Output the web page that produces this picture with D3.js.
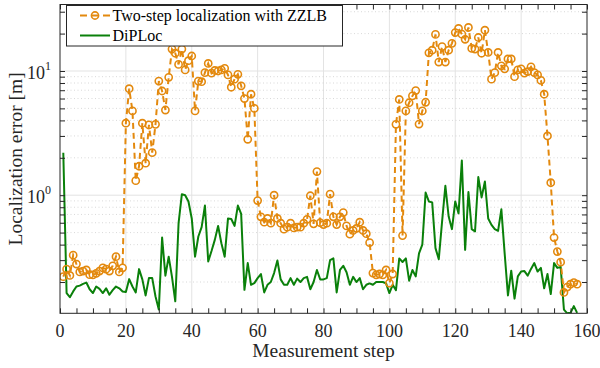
<!DOCTYPE html>
<html>
<head>
<meta charset="utf-8">
<script src="https://cdn.jsdelivr.net/npm/d3@7"></script>
<style>
  body { margin: 0; background: #fff; }
  svg text { font-family: "Liberation Serif", Tinos, "Times New Roman", Times, "DejaVu Serif", serif; }
</style>
</head>
<body>
<div id="chart"></div>
<script>
const zzlb = [
  0.221, 0.254, 0.226, 0.329, 0.279, 0.241, 0.245, 0.25, 0.229, 0.228,
  0.235, 0.245, 0.26, 0.254, 0.245, 0.27, 0.32, 0.241, 0.26, 3.8,
  7.2, 4.77, 1.31, 1.71, 3.8, 1.81, 3.68, 2.2, 3.72, 8.3,
  6.9, 4.85, 8.9, 15, 13.9, 11.3, 15, 10.2, 12.1, 13.2,
  4.77, 8.3, 8.2, 9.7, 11.5, 9.6, 10.1, 10.0, 10.2, 10.5,
  9.3, 7.4, 8.6, 9.4, 7.6, 6.0, 2.82, 6.5, 5.0, 0.905,
  0.67, 0.606, 0.65, 0.595, 1.0, 0.65, 0.595, 0.533, 0.553, 0.595,
  0.545, 0.553, 0.553, 0.595, 0.64, 0.99, 0.588, 1.55, 0.6, 0.58,
  0.595, 1.02, 0.67, 0.58, 0.67, 0.725, 0.566, 0.486, 0.52, 0.54,
  0.606, 0.52, 0.49, 0.415, 0.236, 0.228, 0.232, 0.228, 0.25, 0.196,
  0.232, 3.72, 5.9, 0.473, 4.77, 5.55, 6.3, 6.95, 3.74, 4.77,
  5.6, 14, 14.7, 19.7, 11.8, 15.7, 11.8, 14.7, 16.7, 20.4,
  22, 19.8, 18, 22.4, 15.2, 15, 18.6, 13.9, 21.3, 14.1,
  8.6, 9.7, 14.1, 11, 10.4, 12.5, 12.5, 9.0, 10.2, 10.4,
  9.6, 9.9, 10.8, 9.7, 9.3, 8.4, 6.5, 3.0, 1.26, 0.456,
  0.352, 0.289, 0.165, 0.182, 0.192, 0.198, 0.192
];

const diploc = [
  2.2, 0.163, 0.151, 0.168, 0.184, 0.187, 0.193, 0.198, 0.175, 0.163,
  0.184, 0.176, 0.163, 0.178, 0.158, 0.172, 0.184, 0.178, 0.168, 0.166,
  0.211, 0.184, 0.165, 0.254, 0.21, 0.156, 0.215, 0.215, 0.153, 0.12,
  0.456, 0.225, 0.32, 0.22, 0.14, 0.595, 1.02, 1.0, 0.89, 0.65,
  0.32, 0.465, 0.553, 0.825, 0.293, 0.355, 0.437, 0.566, 0.41, 0.32,
  0.648, 0.643, 0.566, 0.825, 0.707, 0.173, 0.284, 0.19, 0.196, 0.215,
  0.232, 0.165, 0.19, 0.2, 0.236, 0.298, 0.21, 0.19, 0.19, 0.215,
  0.19, 0.213, 0.2, 0.215, 0.22, 0.175, 0.2, 0.25, 0.21, 0.21,
  0.215, 0.30, 0.31, 0.165, 0.25, 0.27, 0.24, 0.19, 0.22, 0.2,
  0.215, 0.175, 0.19, 0.195, 0.19, 0.2, 0.2, 0.2, 0.195, 0.163,
  0.19, 0.172, 0.31, 0.29, 0.31, 0.205, 0.25, 0.222, 0.34, 0.4,
  1.05, 0.89, 0.875, 0.375, 0.305, 0.613, 1.19, 0.673, 0.533, 0.89,
  0.714, 1.9, 0.363, 1.06, 0.533, 0.51, 1.4, 0.96, 1.29, 0.65,
  0.577, 0.533, 0.516, 0.77, 0.34, 0.156, 0.247, 0.147, 0.222, 0.243,
  0.245, 0.225, 0.255, 0.284, 0.243, 0.26, 0.178, 0.232, 0.16, 0.284,
  0.26, 0.265, 0.12, 0.112, 0.113, 0.128, 0.113
];

const seriesNames = ["Two-step localization with ZZLB", "DiPLoc"];
const xTicks = [0, 20, 40, 60, 80, 100, 120, 140, 160];
const yMajor = [1, 10];
const yMinor = [0.2, 0.3, 0.4, 0.5, 0.6, 0.7, 0.8, 0.9, 2, 3, 4, 5, 6, 7, 8, 9, 20, 30];

const width = 600, height = 368,
      margin = ({top: 4.5, right: 13, bottom: 54.7, left: 60});
const orange = "#e3890e", green = "#0a800a", axisCol = "#262626";

const svg = d3.select("#chart").append("svg")
    .attr("width", width).attr("height", height)
    .attr("viewBox", [0, 0, width, height]);

const x = d3.scaleLinear().domain([0, 160])
    .range([margin.left, width - margin.right]);
const y = d3.scaleLog().domain([0.112, 34.3])
    .range([height - margin.bottom, margin.top]);

const x0 = x.range()[0], x1 = x.range()[1], y0 = y.range()[0], y1 = y.range()[1];

// grid
const grid = svg.append("g");
grid.selectAll(".gx").data(xTicks.slice(1, -1)).join("line")
    .attr("x1", d => x(d)).attr("x2", d => x(d))
    .attr("y1", y1).attr("y2", y0)
    .attr("stroke", "#e3e3e3").attr("stroke-width", 1);
grid.selectAll(".gym").data(yMinor).join("line")
    .attr("x1", x0).attr("x2", x1)
    .attr("y1", d => y(d)).attr("y2", d => y(d))
    .attr("stroke", "#cfcfcf").attr("stroke-width", 0.8)
    .attr("stroke-dasharray", "1,2.5");
grid.selectAll(".gy").data(yMajor).join("line")
    .attr("x1", x0).attr("x2", x1)
    .attr("y1", d => y(d)).attr("y2", d => y(d))
    .attr("stroke", "#e3e3e3").attr("stroke-width", 1);

// lines
svg.append("clipPath").attr("id", "clip")
    .append("rect").attr("x", x0).attr("y", y1).attr("width", x1 - x0).attr("height", y0 - y1);

const line = d3.line().x((d, i) => x(i + 1)).y(d => y(d));

const plot = svg.append("g").attr("clip-path", "url(#clip)");
plot.append("path").datum(diploc)
    .attr("d", line).attr("fill", "none")
    .attr("stroke", green).attr("stroke-width", 2).attr("stroke-linejoin", "round");
plot.append("path").datum(zzlb)
    .attr("d", line).attr("fill", "none")
    .attr("stroke", orange).attr("stroke-width", 2)
    .attr("stroke-dasharray", "6,4");
plot.selectAll(".mk").data(zzlb).join("circle")
    .attr("cx", (d, i) => x(i + 1)).attr("cy", d => y(d))
    .attr("r", 3.6).attr("fill", "none")
    .attr("stroke", orange).attr("stroke-width", 1.6);

// axes: ticks pointing inward, box all round
const tk = 5;
svg.append("g").attr("transform", `translate(0,${y0})`)
    .call(d3.axisBottom(x).tickValues(d3.range(0, 161, 5)).tickSize(-tk).tickFormat(""))
    .call(g => g.select(".domain").remove());
svg.append("g").attr("transform", `translate(0,${y1})`)
    .call(d3.axisTop(x).tickValues(d3.range(0, 161, 5)).tickSize(-tk).tickFormat(""))
    .call(g => g.select(".domain").remove());
svg.append("g").attr("transform", `translate(${x0},0)`)
    .call(d3.axisLeft(y).tickValues(yMajor.concat(yMinor)).tickSize(-tk).tickFormat(""))
    .call(g => g.select(".domain").remove());
svg.append("g").attr("transform", `translate(${x1},0)`)
    .call(d3.axisRight(y).tickValues(yMajor.concat(yMinor)).tickSize(-tk).tickFormat(""))
    .call(g => g.select(".domain").remove());
svg.selectAll(".tick line").attr("stroke", axisCol).attr("stroke-width", 1);

svg.append("rect")
    .attr("x", x0).attr("y", y1).attr("width", x1 - x0).attr("height", y0 - y1)
    .attr("fill", "none").attr("stroke", axisCol).attr("stroke-width", 1);

// tick labels
svg.selectAll(".xl").data(xTicks).join("text")
    .attr("x", d => x(d)).attr("y", y0 + 24)
    .attr("text-anchor", "middle").attr("font-size", 18).attr("fill", axisCol)
    .text(d => d);

const yl = svg.selectAll(".yl").data(yMajor).join("text")
    .attr("x", x0 - 9).attr("y", d => y(d) + 8)
    .attr("text-anchor", "end").attr("font-size", 18).attr("fill", axisCol);
yl.append("tspan").text("10");
yl.append("tspan").attr("dy", -9).attr("font-size", 12).text(d => Math.round(Math.log10(d)));

// axis titles
svg.append("text")
    .attr("x", (x0 + x1) / 2).attr("y", 357)
    .attr("text-anchor", "middle").attr("font-size", 19.5).attr("fill", axisCol)
    .text("Measurement step");
svg.append("text")
    .attr("transform", `translate(22,${(y0 + y1) / 2}) rotate(-90)`)
    .attr("text-anchor", "middle").attr("font-size", 19.5).attr("fill", axisCol)
    .text("Localization error [m]");

// legend
const lg = svg.append("g");
lg.append("rect").attr("x", 66.5).attr("y", 5.5).attr("width", 276).attr("height", 40.5)
    .attr("fill", "#fff").attr("stroke", axisCol).attr("stroke-width", 1);
lg.append("line").attr("x1", 80).attr("x2", 110).attr("y1", 15.5).attr("y2", 15.5)
    .attr("stroke", orange).attr("stroke-width", 2).attr("stroke-dasharray", "7,4.5");
lg.append("circle").attr("cx", 95).attr("cy", 15.5).attr("r", 3.6)
    .attr("fill", "none").attr("stroke", orange).attr("stroke-width", 1.6);
lg.append("line").attr("x1", 80).attr("x2", 110).attr("y1", 35.5).attr("y2", 35.5)
    .attr("stroke", green).attr("stroke-width", 2);
lg.selectAll(".lt").data(seriesNames).join("text")
    .attr("x", 112.5).attr("y", (d, i) => 21 + i * 20)
    .attr("font-size", 16).attr("fill", "#000")
    .text(d => d);
</script>
</body>
</html>
